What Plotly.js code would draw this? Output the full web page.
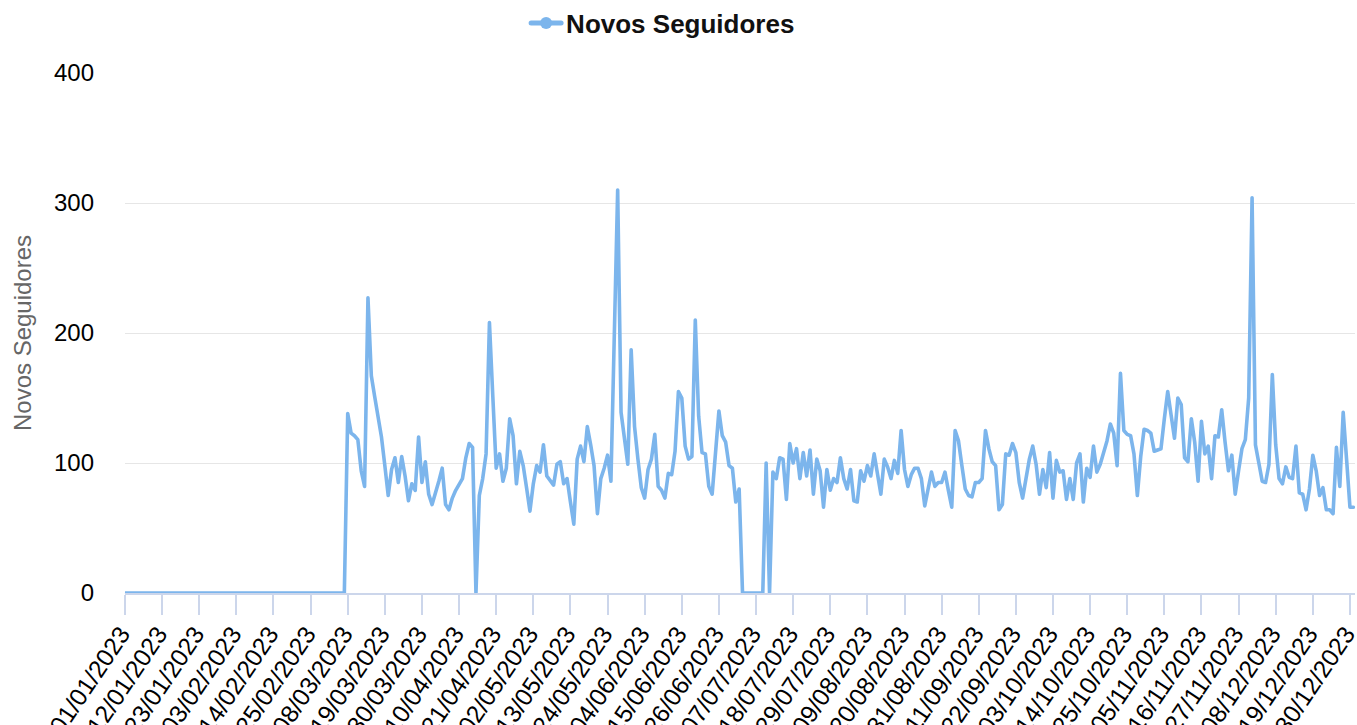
<!DOCTYPE html>
<html>
<head>
<meta charset="utf-8">
<script src="https://cdn.plot.ly/plotly-3.0.1.min.js"></script>
<style>
html,body{margin:0;padding:0;background:#fff;overflow:hidden}
#chart{width:1357px;height:725px}
.js-line{stroke-linejoin:round;stroke-linecap:round}
</style>
</head>
<body>
<div id="chart"></div>
<script>
const seriesName = 'Novos Seguidores';
const yearStart = [2023, 0, 1];

// Daily new followers, one array per month of 2023
const jan = [0,0,0,0,0,0,0,0,0,0, 0,0,0,0,0,0,0,0,0,0, 0,0,0,0,0,0,0,0,0,0, 0];
const feb = [0,0,0,0,0,0,0,0,0,0, 0,0,0,0,0,0,0,0,0,0, 0,0,0,0,0,0,0,0];
const mar = [0,0,0,0,0,0,0,138,123,121, 118,94,82,227,167,151,134,120,98,75, 95,104,85,105,90,71,84,79,120,85, 101];
const apr = [76,68,76,86,96,68,64,73,79,84, 88,104,115,112,0,75,88,107,208,151, 96,107,86,96,134,121,84,109,98,81];
const may = [63,84,98,93,114,90,86,83,99,101, 84,88,70,53,103,113,101,128,114,98, 61,88,96,106,86,198,310,139,118,99, 187];
const jun = [128,103,81,73,95,103,122,82,79,73, 92,91,109,155,150,113,103,105,210,136, 108,107,82,76,105,140,121,116,98,96];
const jul = [70,80,0,0,0,0,0,0,0,100, 0,93,88,104,103,72,115,100,111,88, 108,90,110,76,103,94,66,95,79,88, 85];
const aug = [104,88,80,95,71,70,94,86,98,90, 107,93,76,103,97,88,102,92,125,95, 82,91,96,96,88,67,82,93,82,85, 85];
const sep = [93,79,66,125,117,98,80,75,74,85, 85,88,125,111,101,98,64,68,107,106, 115,108,85,73,88,103,113,99,76,95];
const oct = [81,108,73,102,93,94,72,88,72,100, 107,70,96,89,113,93,99,109,117,130, 123,98,169,125,122,121,107,75,105,126, 125];
const nov = [123,109,110,111,134,155,137,119,150,145, 104,101,134,116,86,132,107,113,88,121, 120,141,116,94,106,76,94,111,118,150];
const dec = [304,114,100,86,85,99,168,114,88,84, 97,89,88,113,77,76,64,80,106,94, 75,81,64,64,61,112,82,139,103,66, 66];

const tickLabels = ['01/01/2023','12/01/2023','23/01/2023','03/02/2023','14/02/2023','25/02/2023',
  '08/03/2023','19/03/2023','30/03/2023','10/04/2023','21/04/2023','02/05/2023','13/05/2023',
  '24/05/2023','04/06/2023','15/06/2023','26/06/2023','07/07/2023','18/07/2023','29/07/2023',
  '09/08/2023','20/08/2023','31/08/2023','11/09/2023','22/09/2023','03/10/2023','14/10/2023',
  '25/10/2023','05/11/2023','16/11/2023','27/11/2023','08/12/2023','19/12/2023','30/12/2023'];
const yTicks = [0, 100, 200, 300, 400];

const values = [].concat(jan, feb, mar, apr, may, jun, jul, aug, sep, oct, nov, dec);
const dates = values.map(function (v, i) {
  return new Date(Date.UTC(yearStart[0], yearStart[1], yearStart[2] + i)).toISOString().slice(0, 10);
});
const tickVals = tickLabels.map(function (s) {
  const p = s.split('/');
  return p[2] + '-' + p[1] + '-' + p[0];
});

const FONT = '"Liberation Sans", Arial, Helvetica, sans-serif';

const trace = {
  type: 'scatter',
  mode: 'lines+markers',
  name: seriesName,
  x: dates,
  y: values,
  line: { color: '#7cb5ec', width: 3.6 },
  marker: { color: '#7cb5ec', size: 0.5, line: { width: 0 } },
  cliponaxis: false,
  hoverinfo: 'x+y'
};

const layout = {
  width: 1357,
  height: 725,
  margin: { l: 125, r: 2, t: 73, b: 132, pad: 0 },
  paper_bgcolor: '#ffffff',
  plot_bgcolor: '#ffffff',
  font: { family: FONT, size: 24, color: '#000000' },
  showlegend: true,
  legend: {
    orientation: 'h',
    xref: 'container', yref: 'container',
    x: 0.3877, xanchor: 'left',
    y: 0.968, yanchor: 'middle',
    font: { family: FONT, size: 26, color: '#111111', weight: 'bold' },
    itemsizing: 'constant',
    bgcolor: 'rgba(0,0,0,0)'
  },
  xaxis: {
    type: 'date',
    range: ['2023-01-01', '2023-12-31 12:00'],
    tickmode: 'array',
    tickvals: tickVals,
    ticktext: tickLabels,
    tickangle: -56,
    ticks: 'outside',
    ticklen: 20,
    tickwidth: 1.5,
    tickcolor: '#ccd6eb',
    ticklabelstandoff: -5,
    ticklabelshift: -4,
    showline: true,
    linecolor: '#ccd6eb',
    linewidth: 2,
    showgrid: false,
    zeroline: false,
    automargin: false,
    ticklabeloverflow: 'allow',
    tickfont: { family: FONT, size: 24.5, color: '#000000' }
  },
  yaxis: {
    range: [0, 400],
    tickmode: 'array',
    tickvals: yTicks,
    showgrid: true,
    gridcolor: '#e6e6e6',
    gridwidth: 1,
    zeroline: false,
    showline: false,
    ticks: '',
    ticklabelstandoff: 30,
    automargin: false,
    tickfont: { family: FONT, size: 24, color: '#000000' },
    title: { text: seriesName, font: { family: FONT, size: 24, color: '#666666' }, standoff: 15 }
  }
};

Plotly.newPlot('chart', [trace], layout, { displayModeBar: false });
</script>
</body>
</html>
